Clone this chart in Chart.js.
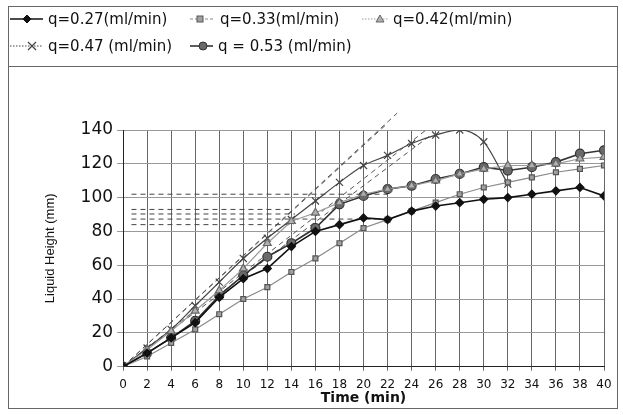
<!DOCTYPE html>
<html><head><meta charset="utf-8">
<script src="https://cdn.jsdelivr.net/npm/chart.js@4.4.0/dist/chart.umd.min.js"></script>
<style>
html,body{margin:0;padding:0;background:#fff;}
#wrap{position:relative;width:623px;height:415px;overflow:hidden;background:#fff;}
canvas{position:absolute;left:0;top:0;}
#frame{position:absolute;left:8px;top:6px;width:610px;height:403px;border:1px solid #666;box-sizing:border-box;pointer-events:none;}
#sep{position:absolute;left:8px;top:66px;width:610px;height:0;border-top:1px solid #666;}
.item{position:absolute;white-space:nowrap;font-family:"DejaVu Sans";font-size:15px;color:#111;line-height:18px;}
.item svg{position:absolute;top:0;}
</style></head><body>
<div id="wrap"><canvas id="c" width="623" height="415"></canvas><div id="frame"></div><div id="sep"></div><div id="legend"></div></div>
<script>
// ---- data ----
const time = [0,2,4,6,8,10,12,14,16,18,20,22,24,26,28,30,32,34,36,38,40];
const q027 = [0,8,17,26,41,52,58,71,80,84,88,87,92,95,97,99,100,102,104,106,101];
const q033 = [0,6,14,22,31,40,47,56,64,73,82,87,92,97,102,106,109,112,115,117,119];
const q042 = [0,10,21,33,45,58,73,86,91,97,102,105,107,110,114,117,119,119,120,123,124];
const q047 = [0,11,22,36,50,64,76,87,98,109,119,125,132,137,140,133,108];
const q053 = [0,8,17,27,42,54,65,73,82,96,101,105,107,111,114,118,116,118,121,126,128];
const seriesLabels = ['q=0.27(ml/min)','q=0.33(ml/min)','q=0.42(ml/min)','q=0.47 (ml/min)','q = 0.53 (ml/min)'];
const xTicks = {min:0, max:40, step:2};
const yTicks = {min:0, max:140, step:20};
// reference (hand-drawn) guide lines
const guideLevels = [102, 93, 90.3, 87.3, 84];
const guideStartX = 0.7;
const guideEndX = [22, 14, 14.3, 21, 14.2];
const slopeEndX = [22.8, 22, 25.2, 25.6];
const slopeEndY = [150, 144, 140, 137];

function pts(ys){ return ys.map((y,i)=>({x:time[i], y:y})); }

const styles = [
  {color:'#111', bg:'#111', ps:'rectRot', r:4, w:1.6, legendDash:''},
  {color:'#8a8a8a', bg:'#a0a0a0', bc:'#555', ps:'rect', r:3.5, w:1.2, legendDash:'3,2'},
  {color:'#9a9a9a', bg:'#b0b0b0', bc:'#666', ps:'triangle', r:4.5, w:1.2, legendDash:'1.5,1.5'},
  {color:'#444', bg:'#444', bc:'#444', ps:'crossRot', r:5, w:1.2, legendDash:'1.5,1.5'},
  {color:'#333', bg:'#6a6a6a', bc:'#333', ps:'circle', r:4.5, w:1.6, legendDash:''}
];
const seriesData = [q027,q033,q042,q047,q053];

const datasets = seriesData.map((d,i)=>({
  label: seriesLabels[i],
  data: pts(d),
  borderColor: styles[i].color,
  backgroundColor: styles[i].bg,
  pointBorderColor: styles[i].bc || styles[i].color,
  pointBackgroundColor: styles[i].bg,
  pointStyle: styles[i].ps,
  pointRadius: styles[i].r,
  pointBorderWidth: 1.2,
  borderWidth: styles[i].w,
  cubicInterpolationMode: i===3 ? 'monotone' : 'default',
  tension: i===3 ? 0.4 : 0,
  order: 1
}));

guideLevels.forEach((lv,i)=>{
  datasets.push({label:'_g'+i, data:[{x:guideStartX,y:lv},{x:guideEndX[i],y:lv}],
    borderColor:'#444', borderWidth:1, borderDash:[5,4], pointRadius:0, order:5});
});
slopeEndX.forEach((ex,i)=>{
  datasets.push({label:'_s'+i, data:[{x:0,y:0},{x:ex,y:slopeEndY[i]}],
    borderColor:'#555', borderWidth:1, borderDash:[5,4], pointRadius:0, clip:false, order:5});
});

new Chart(document.getElementById('c'), {
  type:'line',
  data:{datasets:datasets},
  options:{
    responsive:false, animation:false,
    layout:{padding:{left:43, right:19, top:130, bottom:10}},
    plugins:{legend:{display:false}, tooltip:{enabled:false}},
    scales:{
      x:{type:'linear', min:xTicks.min, max:xTicks.max,
         ticks:{stepSize:xTicks.step, font:{family:'DejaVu Sans', size:12}, color:'#111', padding:7},
         grid:{color:'#666', tickLength:4}, border:{color:'#222'},
         title:{display:true, text:'Time (min)', font:{family:'DejaVu Sans', size:14, weight:'bold', lineHeight:1.0}, color:'#111', padding:{top:-8,bottom:0}}},
      y:{min:yTicks.min, max:yTicks.max,
         ticks:{stepSize:yTicks.step, font:{family:'DejaVu Sans', size:17}, color:'#111', padding:4},
         grid:{color:'#999', tickLength:6}, border:{color:'#222'},
         title:{display:true, text:'Liquid Height (mm)', font:{family:'Liberation Sans', size:13}, color:'#111', padding:{top:0,bottom:18}}}
    }
  }
});

// ---- HTML legend (glyph + text) ----
const legendPos = [
  {lx:10, w:33, mx:17, tx:48, y:10}, {lx:190, w:25, mx:10, tx:220, y:10}, {lx:362, w:26, mx:18, tx:393, y:10},
  {lx:10, w:32, mx:22, tx:48, y:37}, {lx:190, w:23, mx:13, tx:218, y:37}
];
function glyph(i, p){
  const s = styles[i], w = p.w, h = 18, cx = p.mx, cy = 9;
  let m = '';
  const fill = s.bg, st = s.bc || s.color;
  if(s.ps==='rectRot') m = `<polygon points="${cx},${cy-4} ${cx+4},${cy} ${cx},${cy+4} ${cx-4},${cy}" fill="${fill}" stroke="${st}"/>`;
  if(s.ps==='rect') m = `<rect x="${cx-3}" y="${cy-3}" width="6" height="6" fill="${fill}" stroke="${st}"/>`;
  if(s.ps==='triangle') m = `<polygon points="${cx},${cy-4} ${cx+4},${cy+3} ${cx-4},${cy+3}" fill="${fill}" stroke="${st}"/>`;
  if(s.ps==='crossRot') m = `<path d="M${cx-4} ${cy-4}L${cx+4} ${cy+4}M${cx+4} ${cy-4}L${cx-4} ${cy+4}" stroke="${st}" stroke-width="1.2"/>`;
  if(s.ps==='circle') m = `<circle cx="${cx}" cy="${cy}" r="4" fill="${fill}" stroke="${st}"/>`;
  return `<svg width="${w}" height="${h}"><line x1="0" y1="${cy}" x2="${w}" y2="${cy}" stroke="${s.color}" stroke-width="${s.w}" ${s.legendDash?`stroke-dasharray="${s.legendDash}"`:''}/>${m}</svg>`;
}
const lg = document.getElementById('legend');
seriesLabels.forEach((t,i)=>{
  const p = legendPos[i];
  const g = document.createElement('div'); g.className='item';
  g.style.left = p.lx+'px'; g.style.top = p.y+'px'; g.innerHTML = glyph(i, p);
  lg.appendChild(g);
  const tx = document.createElement('div'); tx.className='item';
  tx.style.left = p.tx+'px'; tx.style.top = p.y+'px'; tx.textContent = t;
  lg.appendChild(tx);
});
</script>
</body></html>
